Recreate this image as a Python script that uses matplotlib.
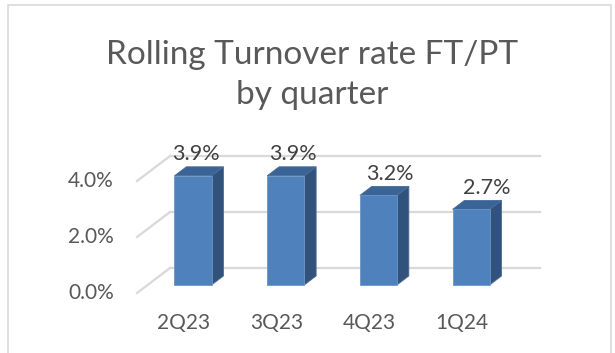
import matplotlib.pyplot as plt
from matplotlib.patches import Polygon, Rectangle

quarters = ["2Q23", "3Q23", "4Q23", "1Q24"]
rates = [3.9, 3.9, 3.2, 2.7]
tick_values = [0.0, 2.0, 4.0]
title = "Rolling Turnover rate FT/PT\nby quarter"

plt.rcParams['font.family'] = ['Lato', 'DejaVu Sans']

FRONT = "#4F81BD"
SIDE = "#31527B"
TOP = "#3A6496"
GRID = "#D9D9D9"
TEXT = "#595959"

fig = plt.figure(figsize=(6.15, 3.53), dpi=100)
ax = fig.add_axes([0, 0, 1, 1])
ax.set_xlim(-2.082, 4.552)
ax.set_ylim(-2.43, 10.18)
ax.axis('off')

# depth direction (one full floor depth, back -> front) in data units
dep_x, dep_y = -0.356, -0.893
bar_depth = 0.68      # bars' front face sits at this depth
bar_thick = 0.36
half_w = 0.2
floor_l, floor_r = -0.49, 3.50


def at_depth(x, y, d):
    return x + dep_x * (d - bar_depth), y + dep_y * (d - bar_depth)


# back wall gridlines and left wall diagonals
for v in tick_values:
    x0, y0 = at_depth(floor_l, v, 0)
    x1, y1 = at_depth(floor_r, v, 0)
    ax.plot([x0, x1], [y0, y1], color=GRID, lw=1.6, zorder=1)
    x2, y2 = at_depth(floor_l, v, 1)
    ax.plot([x0, x2], [y0, y2], color=GRID, lw=1.6, zorder=1)
    ax.text(x2 - 0.25, y2, f"{v:.1f}%", ha='right', va='center',
            fontsize=15, color=TEXT)

# 3d bars
bx = -dep_x * bar_thick
by = -dep_y * bar_thick
for i, h in enumerate(rates):
    l, r = i - half_w, i + half_w
    side = [(r, 0), (r, h), (r + bx, h + by), (r + bx, by)]
    top = [(l, h), (r, h), (r + bx, h + by), (l + bx, h + by)]
    ax.add_patch(Polygon(side, closed=True, fc=SIDE, ec="#4A6C98", lw=0.6, zorder=3))
    ax.add_patch(Polygon(top, closed=True, fc=TOP, ec="#4A6C98", lw=0.6, zorder=3))
    ax.add_patch(Rectangle((l, 0), 2 * half_w, h, fc=FRONT, ec="#6E94C6", lw=0.6, zorder=4))

# value labels spread out a little with the perspective
for i, h in enumerate(rates):
    ax.text(0.03 + 1.045 * i, h + 0.78, f"{h:.1f}%", ha='center', va='center',
            fontsize=15.5, color="#404040", zorder=5)
for i, q in enumerate(quarters):
    ax.text(i - 0.1, -1.357, q, ha='center', va='center',
            fontsize=15, color=TEXT)

fig.text(312 / 615, 1 - 75 / 353, title, ha='center', va='center',
         fontsize=24, color=TEXT, linespacing=1.45)

# chart frame
fig.add_artist(Rectangle((8 / 615, -0.1), 603 / 615, 1.1 - 5 / 353,
                         transform=fig.transFigure, fill=False, ec=GRID, lw=1.2))

fig.savefig("out.png", dpi=100, facecolor="white")
